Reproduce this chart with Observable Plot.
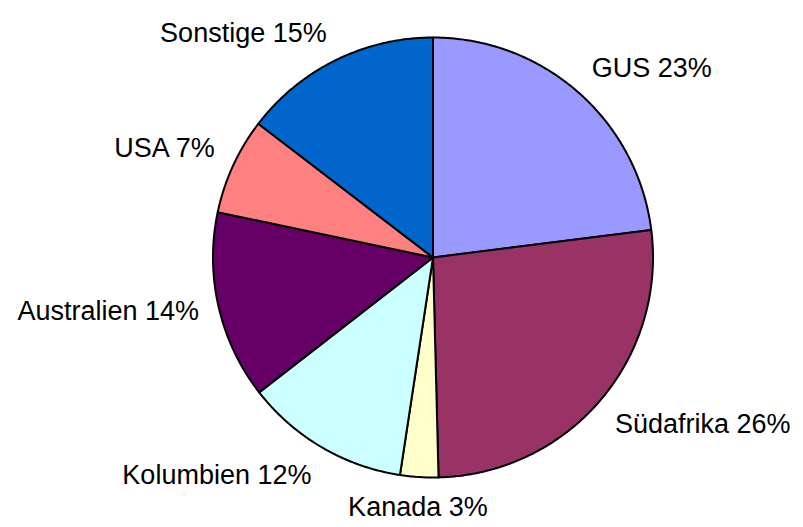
<!DOCTYPE html>
<html>
<head>
<meta charset="utf-8">
<script src="https://cdn.jsdelivr.net/npm/d3@7"></script>
<script src="https://cdn.jsdelivr.net/npm/@observablehq/plot@0.6"></script>
<style>
  html, body { margin: 0; padding: 0; background: #fff; }
  #chart svg { display: block; }
</style>
</head>
<body>
<div id="chart"></div>
<script>
// Data
const names = ["GUS", "Südafrika", "Kanada", "Kolumbien", "Australien", "USA", "Sonstige"];
const values = [23.0, 26.6, 2.8, 12.1, 13.8, 7.1, 14.6];
const percents = [23, 26, 3, 12, 14, 7, 15];
const colors = ["#9999FF", "#993366", "#FFFFCC", "#CCFFFF", "#660066", "#FF8080", "#0066CC"];

const W = 803, H = 527;
const cx = 432.5, cy = 257, rPx = 220; // layout of pie inside the svg
const labelR = 240 / 220;

const table = names.map((name, i) => ({name, value: values[i], label: `${name} ${percents[i]}%`}));
const arcs = d3.pie().sort(null).value(d => d.value)(table);

// polygon points for each slice (unit radius, y up)
const pts = [];
for (const a of arcs) {
  const n = Math.max(2, Math.ceil((a.endAngle - a.startAngle) / (Math.PI / 360)));
  pts.push({name: a.data.name, x: 0, y: 0});
  for (let k = 0; k <= n; ++k) {
    const t = a.startAngle + (a.endAngle - a.startAngle) * k / n;
    pts.push({name: a.data.name, x: Math.sin(t), y: Math.cos(t)});
  }
  pts.push({name: a.data.name, x: 0, y: 0});
}

// label anchors
const labs = arcs.map(a => {
  const m = (a.startAngle + a.endAngle) / 2;
  const sx = Math.sin(m), cy_ = Math.cos(m);
  return {
    label: a.data.label,
    x: labelR * sx,
    y: labelR * cy_,
    ta: sx > 0.3 ? "start" : sx < -0.3 ? "end" : "middle",
    la: cy_ > 0.3 ? "bottom" : cy_ < -0.3 ? "top" : "middle"
  };
});

const textMarks = [];
for (const ta of ["start", "middle", "end"]) {
  for (const la of ["top", "middle", "bottom"]) {
    const sub = labs.filter(d => d.ta === ta && d.la === la);
    if (sub.length) textMarks.push(Plot.text(sub, {
      x: "x", y: "y", text: "label",
      textAnchor: ta, lineAnchor: la,
      fontSize: 27, fill: "black"
    }));
  }
}

const chart = Plot.plot({
  width: W,
  height: H,
  margin: 0,
  x: {domain: [-cx / rPx, (W - cx) / rPx], axis: null},
  y: {domain: [-(H - cy) / rPx, cy / rPx], axis: null},
  color: {domain: names, range: colors},
  style: {fontFamily: "'Liberation Sans', Arial, sans-serif", background: "white"},
  marks: [
    Plot.line(pts, {x: "x", y: "y", z: "name", fill: "name", stroke: "black", strokeWidth: 2, strokeLinejoin: "round"}),
    ...textMarks
  ]
});
document.getElementById("chart").appendChild(chart);
</script>
</body>
</html>
